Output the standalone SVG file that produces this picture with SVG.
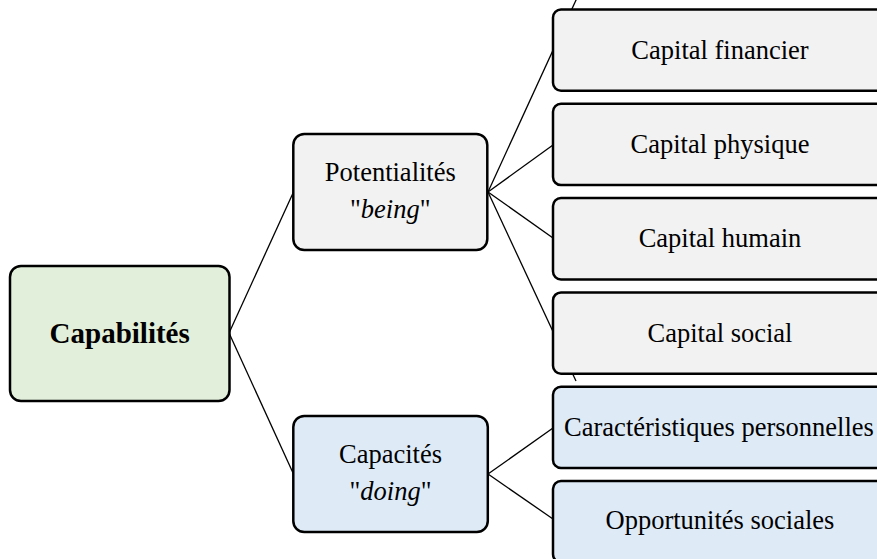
<svg xmlns="http://www.w3.org/2000/svg" width="877" height="559" viewBox="0 0 877 559">
<style>
.box{stroke:#000;stroke-width:2.5}
.grey{fill:#f2f2f2}
.green{fill:#e2efda}
.blue{fill:#deebf7}
.t{font-family:"Liberation Serif","Times New Roman",serif;font-size:26.5px;fill:#000;text-anchor:middle}
.b{font-weight:bold;font-size:29px}
.i{font-style:italic}
.conn line{stroke:#000;stroke-width:1.3}
</style>
<rect width="877" height="559" fill="#fff"/>
<g id="connectors" class="conn">
<line x1="229.5" y1="332" x2="293.5" y2="192"/>
<line x1="229.5" y1="334" x2="293.5" y2="474"/>
<line x1="488" y1="192" x2="576.5" y2="-1"/>
<line x1="488" y1="192" x2="553" y2="145"/>
<line x1="488" y1="192" x2="553" y2="238"/>
<line x1="488" y1="192" x2="576" y2="381"/>
<line x1="488" y1="474" x2="553" y2="428"/>
<line x1="488" y1="474" x2="553" y2="519"/>
</g>
<g id="capabilites">
<rect class="box green" x="10" y="266" width="219.5" height="135" rx="11"/>
<text class="t b" x="119.7" y="343">Capabilités</text>
</g>
<g id="potentialites">
<rect class="box grey" x="293.3" y="134" width="194" height="116" rx="11"/>
<text class="t" x="390.3" y="181">Potentialités</text>
<text class="t" x="390.3" y="218">"<tspan class="i">being</tspan>"</text>
</g>
<g id="capacites">
<rect class="box blue" x="293.3" y="416" width="194.5" height="116" rx="11"/>
<text class="t" x="390.5" y="463">Capacités</text>
<text class="t" x="390.5" y="499.5">"<tspan class="i">doing</tspan>"</text>
</g>
<g id="capital-financier">
<rect class="box grey" x="553" y="9.5" width="334" height="81.3" rx="8"/>
<text class="t" x="720" y="59">Capital financier</text>
</g>
<g id="capital-physique">
<rect class="box grey" x="553" y="103.8" width="334" height="81.3" rx="8"/>
<text class="t" x="720" y="153.2">Capital physique</text>
</g>
<g id="capital-humain">
<rect class="box grey" x="553" y="198.1" width="334" height="81.3" rx="8"/>
<text class="t" x="720" y="247.4">Capital humain</text>
</g>
<g id="capital-social">
<rect class="box grey" x="553" y="292.4" width="334" height="81.3" rx="8"/>
<text class="t" x="720" y="341.5">Capital social</text>
</g>
<g id="caracteristiques-personnelles">
<rect class="box blue" x="553" y="386.7" width="334" height="81.3" rx="8"/>
<text class="t" x="719" y="435.5">Caractéristiques personnelles</text>
</g>
<g id="opportunites-sociales">
<rect class="box blue" x="553" y="481" width="334" height="81.3" rx="8"/>
<text class="t" x="720" y="529">Opportunités sociales</text>
</g>
</svg>
